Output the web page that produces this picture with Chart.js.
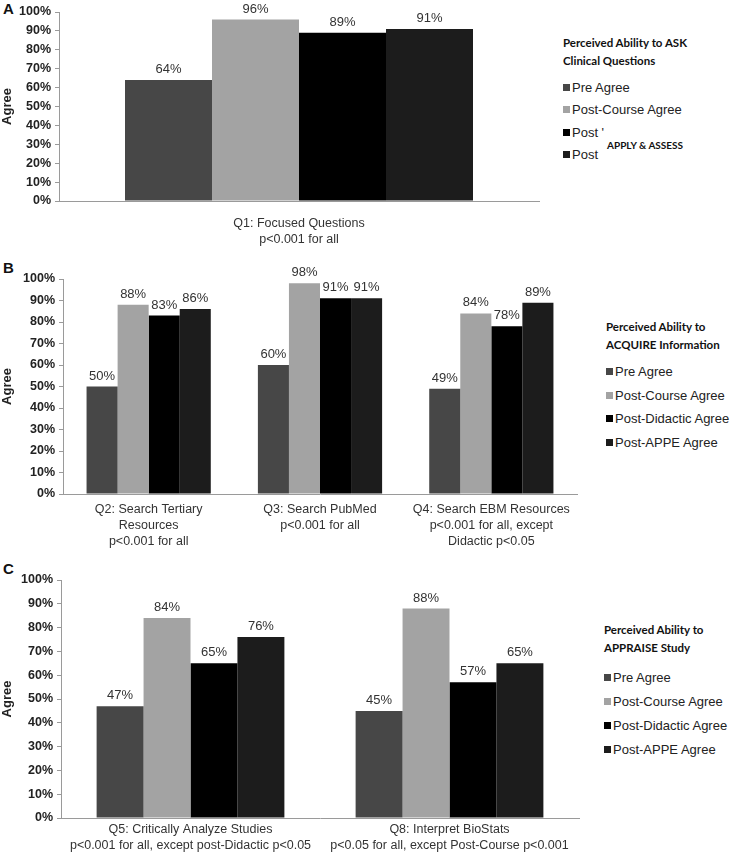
<!DOCTYPE html>
<html>
<head>
<meta charset="utf-8">
<script src="https://cdn.jsdelivr.net/npm/chart.js@4.4.1/dist/chart.umd.min.js"></script>
<style>
  body { margin: 0; background: #fff; font-family: 'Liberation Sans', Arial, sans-serif; }
  #wrap { position: relative; width: 732px; height: 854px; overflow: hidden; }
  .box { position: absolute; }
  .panel-tag { position: absolute; font: bold 15px 'Liberation Sans', Arial, sans-serif; color: #111; }
  .legend { position: absolute; color: #222; }
  .legend .ttl { font: bold 11.5px Lato, 'Open Sans', sans-serif; line-height: 18px; margin-bottom: 6px; color: #111; }
  .legend .item { font: 13px 'Liberation Sans', Arial, sans-serif; height: 23.5px; display: flex; align-items: center; white-space: nowrap; }
  .legend .sw { width: 7px; height: 7px; margin-right: 2px; display: inline-block; }
  .overlay { position: absolute; font: bold 10px Lato, 'Open Sans', sans-serif; color: #111; }
</style>
</head>
<body>
<div id="wrap">
  <div class="panel-tag" style="left:3px;top:0px">A</div>
  <div class="panel-tag" style="left:3px;top:259px">B</div>
  <div class="panel-tag" style="left:3px;top:560px">C</div>

  <div class="box" style="left:0;top:0;width:545px;height:250px"><canvas id="chartA"></canvas></div>
  <div class="box" style="left:0;top:257px;width:585px;height:298px"><canvas id="chartB"></canvas></div>
  <div class="box" style="left:0;top:561px;width:590px;height:293px"><canvas id="chartC"></canvas></div>

  <div class="legend" id="legA" style="left:563px;top:34px"></div>
  <div class="overlay" style="left:607px;top:139px">APPLY &amp; ASSESS</div>
  <div class="legend" id="legB" style="left:606px;top:318px"></div>
  <div class="legend" id="legC" style="left:604px;top:621px"></div>
</div>

<script>
// Series (shared)
const seriesNames = ['Pre Agree', 'Post-Course Agree', 'Post-Didactic Agree', 'Post-APPE Agree'];
const seriesColors = ['#474747', '#a3a3a3', '#000000', '#1c1c1c'];

// Panel A - ASK
const labelsA = [['Q1: Focused Questions', 'p<0.001 for all']];
const preA = [64];
const courseA = [96];
const didacticA = [89];
const appeA = [91];

// Panel B - ACQUIRE
const labelsB = [
    ['Q2: Search Tertiary', 'Resources', 'p<0.001 for all'],
    ['Q3: Search PubMed', 'p<0.001 for all'],
    ['Q4: Search EBM Resources', 'p<0.001 for all, except', 'Didactic p<0.05']
];
const preB = [50, 60, 49];
const courseB = [88, 98, 84];
const didacticB = [83, 91, 78];
const appeB = [86, 91, 89];

// Panel C - APPRAISE
const labelsC = [
    ['Q5: Critically Analyze Studies', 'p<0.001 for all, except post-Didactic p<0.05'],
    ['Q8: Interpret BioStats', 'p<0.05 for all, except Post-Course p<0.001']
];
const preC = [47, 45];
const courseC = [84, 88];
const didacticC = [65, 57];
const appeC = [76, 65];

const yTicks = [0, 10, 20, 30, 40, 50, 60, 70, 80, 90, 100];

// value labels above bars
const barValuePlugin = {
    id: 'barValues',
    afterDatasetsDraw(chart) {
        const ctx = chart.ctx;
        ctx.save();
        ctx.font = "13px 'Liberation Sans', Arial, sans-serif";
        ctx.fillStyle = '#333';
        ctx.textAlign = 'center';
        ctx.textBaseline = 'alphabetic';
        chart.data.datasets.forEach((ds, i) => {
            chart.getDatasetMeta(i).data.forEach((bar, j) => {
                ctx.fillText(ds.data[j] + '%', bar.x, bar.y - 7);
            });
        });
        ctx.restore();
    }
};

function makeChart(id, labels, values, cfg) {
    const ctx = document.getElementById(id).getContext('2d');
    return new Chart(ctx, {
        type: 'bar',
        data: {
            labels: labels,
            datasets: values.map((v, i) => ({
                label: seriesNames[i],
                data: v,
                backgroundColor: seriesColors[i],
                borderWidth: 0,
                categoryPercentage: 0.725,
                barPercentage: 1.0
            }))
        },
        options: {
            responsive: true,
            maintainAspectRatio: false,
            animation: false,
            layout: { padding: { top: cfg.top, right: cfg.right, left: 0, bottom: 0 } },
            plugins: { legend: { display: false }, tooltip: { enabled: false } },
            scales: {
                y: {
                    min: 0,
                    max: 100,
                    afterFit: (s) => { s.width = cfg.yWidth; },
                    afterBuildTicks: (s) => { s.ticks = yTicks.map(v => ({ value: v })); },
                    border: { color: '#9a9a9a', width: 1 },
                    grid: { drawOnChartArea: false, drawTicks: true, tickLength: 4, color: '#9a9a9a' },
                    ticks: {
                        padding: 4,
                        color: '#222',
                        font: { family: "'Liberation Sans', Arial, sans-serif", size: 12.5, weight: 'bold' },
                        callback: (v) => v + '%'
                    },
                    title: {
                        display: true,
                        text: 'Agree',
                        color: '#222',
                        padding: 0,
                        font: { family: "'Liberation Sans', Arial, sans-serif", size: 13, weight: 'bold' }
                    }
                },
                x: {
                    afterFit: (s) => { s.height = cfg.xHeight; },
                    border: { color: '#9a9a9a', width: 1 },
                    grid: { display: false, drawTicks: false },
                    ticks: {
                        padding: cfg.xPad,
                        color: '#333',
                        maxRotation: 0,
                        autoSkip: false,
                        font: { family: "'Liberation Sans', Arial, sans-serif", size: 12.5, lineHeight: 1.25 }
                    }
                }
            }
        },
        plugins: [barValuePlugin]
    });
}

makeChart('chartA', labelsA, [preA, courseA, didacticA, appeA],
    { top: 12, right: 6, yWidth: 59, xHeight: 49, xPad: 15 });
makeChart('chartB', labelsB, [preB, courseB, didacticB, appeB],
    { top: 22, right: 8, yWidth: 63, xHeight: 61, xPad: 8 });
makeChart('chartC', labelsC, [preC, courseC, didacticC, appeC],
    { top: 19, right: 11, yWidth: 61, xHeight: 36, xPad: 4 });

// HTML legends
function buildLegend(id, titleLines, names, step, gap) {
    const el = document.getElementById(id);
    let html = '<div class="ttl" style="margin-bottom:' + gap + 'px">' + titleLines.join('<br>') + '</div>';
    names.forEach((n, i) => {
        html += '<div class="item" style="height:' + step + 'px"><span class="sw" style="background:' + seriesColors[i] + '"></span>' + n + '</div>';
    });
    el.innerHTML = html;
}
buildLegend('legA', ['Perceived Ability to ASK', 'Clinical Questions'],
    ['Pre Agree', 'Post-Course Agree', "Post '", 'Post'], 22.5, 6);
buildLegend('legB', ['Perceived Ability to', 'ACQUIRE Information'], seriesNames, 23.5, 6);
buildLegend('legC', ['Perceived Ability to', 'APPRAISE Study'], seriesNames, 24, 8);
</script>
</body>
</html>
